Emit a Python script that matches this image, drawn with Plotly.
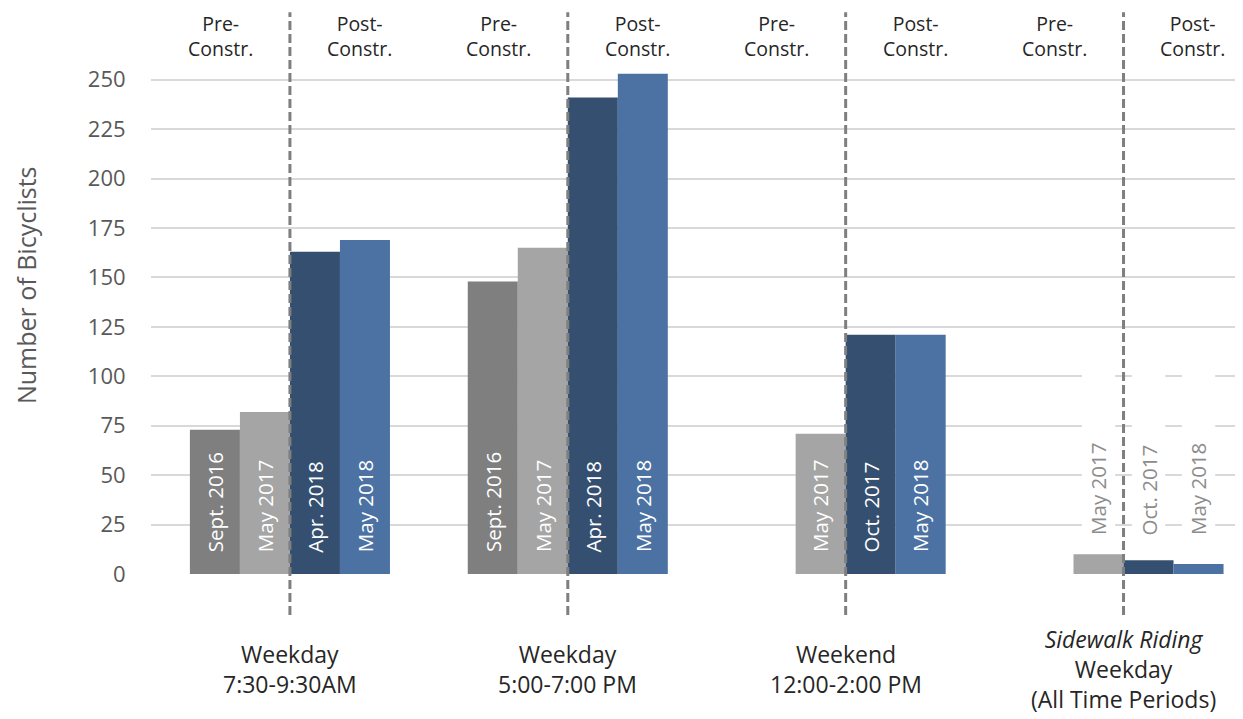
import plotly.graph_objects as go

# ---- data ----
groups = [
    "Weekday<br>7:30-9:30AM",
    "Weekday<br>5:00-7:00 PM",
    "Weekend<br>12:00-2:00 PM",
    "<i>Sidewalk Riding</i><br>Weekday<br>(All Time Periods)",
]
series_values = [
    [73, 148, None, None],
    [82, 165, 71, 10],
    [163, 241, 121, 7],
    [169, 253, 121, 5],
]
series_labels = [
    ["Sept. 2016", "Sept. 2016", "", ""],
    ["May 2017", "May 2017", "May 2017", "May 2017"],
    ["Apr. 2018", "Apr. 2018", "Oct. 2017", "Oct. 2017"],
    ["May 2018", "May 2018", "May 2018", "May 2018"],
]
phase_labels = ["Pre-<br>Constr.", "Post-<br>Constr."]
y_ticks = [0, 25, 50, 75, 100, 125, 150, 175, 200, 225, 250]

# ---- styles ----
colors = ["#7f7f7f", "#a5a5a5", "#344f6f", "#4b72a2"]
FONT = "Open Sans"
bar_w = 0.18
offsets = [-0.36, -0.18, 0.0, 0.18]
xs = list(range(len(groups)))

fig = go.Figure()
for k in range(4):
    fig.add_trace(go.Bar(
        x=xs, y=series_values[k], width=bar_w, offset=offsets[k],
        marker=dict(color=colors[k], line=dict(width=0)),
        name=series_labels[k][0], showlegend=False, hoverinfo="y",
    ))

annotations = []
shapes = []
# labels on bars
for k in range(4):
    for i in xs:
        v = series_values[k][i]
        if v is None:
            continue
        cx = i + offsets[k] + bar_w / 2
        if v > 40:
            annotations.append(dict(
                x=cx, y=10, xref="x", yref="y", text=series_labels[k][i],
                textangle=-90, showarrow=False, xanchor="center", yanchor="bottom",
                font=dict(family=FONT, size=20.5, color="white")))
        else:
            annotations.append(dict(
                x=cx, y=18.5, xref="x", yref="y", text=series_labels[k][i],
                textangle=-90, showarrow=False, xanchor="center", yanchor="bottom",
                font=dict(family=FONT, size=20.5, color="#8c8c8c")))
            shapes.append(dict(
                type="rect", xref="x", yref="y", x0=cx - 0.06, x1=cx + 0.06,
                y0=15, y1=110, fillcolor="white", line=dict(width=0), layer="between"))

# dashed separators + phase labels + group labels
for i in xs:
    shapes.append(dict(
        type="line", xref="x", yref="paper", x0=i, x1=i, y0=-0.08, y1=1.093,
        line=dict(color="#7f7f7f", width=3, dash="9px,4px"), layer="above"))
    for j, off in enumerate([-0.25, 0.25]):
        annotations.append(dict(
            x=i + off, y=1.046, xref="x", yref="paper", text=phase_labels[j],
            showarrow=False, xanchor="center", yanchor="middle",
            font=dict(family=FONT, size=19.5, color="#262626")))
    annotations.append(dict(
        x=i, y=-0.185, xref="x", yref="paper", text=groups[i],
        showarrow=False, xanchor="center", yanchor="middle",
        font=dict(family=FONT, size=23, color="#262626")))

annotations.append(dict(
    x=-0.1145, y=0.562, xref="paper", yref="paper", text="Number of Bicyclists",
    textangle=-90, showarrow=False, xanchor="center", yanchor="middle",
    font=dict(family=FONT, size=25, color="#595959")))

fig.update_layout(
    width=1235, height=711,
    margin=dict(l=143, r=0, t=52, b=145),
    plot_bgcolor="white", paper_bgcolor="white",
    barmode="overlay",
    xaxis=dict(range=[-0.5, 3.43], showticklabels=False, showgrid=False,
               zeroline=False, showline=False, ticks=""),
    yaxis=dict(range=[0, 260], tickvals=y_ticks, showgrid=True,
               gridcolor="#d9d9d9", gridwidth=2, zeroline=False, showline=False,
               ticks="outside", ticklen=20, tickcolor="rgba(0,0,0,0)",
               tickfont=dict(family=FONT, size=22, color="#595959")),
    annotations=annotations, shapes=shapes,
)

fig.write_html("out.html")
